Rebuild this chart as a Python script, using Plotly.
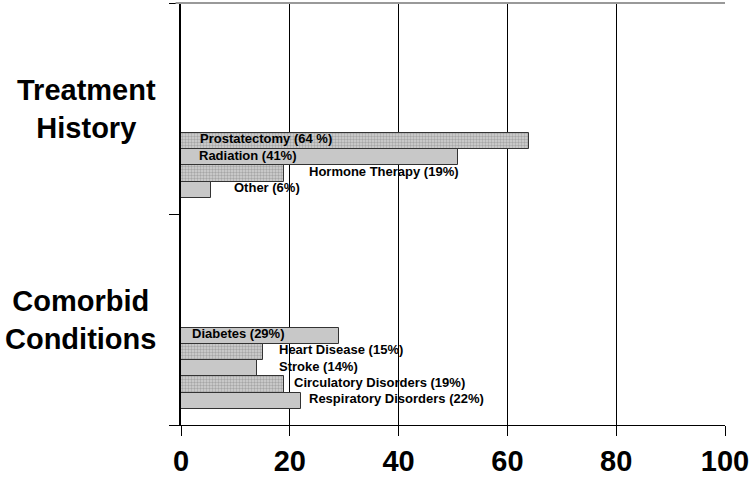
import plotly.graph_objects as go

# data
groups = ["Treatment<br>History", "Comorbid<br>Conditions"]
treatment_labels = ["Prostatectomy (64 %)", "Radiation (41%)", "Hormone Therapy (19%)", "Other (6%)"]
treatment_values = [64, 51, 19, 5.5]
comorbid_labels = ["Diabetes (29%)", "Heart Disease (15%)", "Stroke (14%)",
                   "Circulatory Disorders (19%)", "Respiratory Disorders (22%)"]
comorbid_values = [29, 15, 14, 19, 22]
x_ticks = [0, 20, 40, 60, 80, 100]

# layout of the bars inside each group (slots of equal height)
SLOTS = 13
# where the text of each label starts (x, in axis units)
treatment_text_x = [3.1, 3.0, 23.2, 9.4]
comorbid_text_x = [1.7, 17.6, 17.6, 20.4, 23.2]

FONT = "Arial, Liberation Sans, sans-serif"

fig = go.Figure()
annotations = []

series = [(treatment_labels, treatment_values, treatment_text_x),
          (comorbid_labels, comorbid_values, comorbid_text_x)]

for g, (labels, values, text_x) in enumerate(series):
    start = g * SLOTS + (SLOTS - 1 - len(labels))
    ys = [start + i + 0.5 for i in range(len(labels))]
    # alternate hatched / plain bars
    for i, (lab, val, y) in enumerate(zip(labels, values, ys)):
        hatched = (i % 2 == 0) if g == 0 else (i % 2 == 1)
        marker = dict(color="#c8c8c8", line=dict(color="#333333", width=1))
        if hatched:
            marker = dict(color="#d4d4d4", line=dict(color="#333333", width=1),
                          pattern=dict(shape=".", size=3, solidity=0.5,
                                       fgcolor="#777777", bgcolor="#d4d4d4"))
        fig.add_trace(go.Bar(x=[val], y=[y], orientation="h", width=1,
                             marker=marker, showlegend=False, hoverinfo="skip"))
        annotations.append(dict(x=text_x[i], y=y, xref="x", yref="y", text=f"<b>{lab}</b>",
                                showarrow=False, xanchor="left", yanchor="middle", yshift=2,
                                font=dict(family=FONT, size=13, color="black")))

for g, name in enumerate(groups):
    annotations.append(dict(x=-0.043, y=g * SLOTS + SLOTS / 2, xref="paper", yref="y",
                            text=f"<b>{name}</b>", showarrow=False, xanchor="right",
                            yanchor="middle", align="center",
                            font=dict(family=FONT, size=29, color="black")))

fig.update_layout(
    width=750, height=484,
    margin=dict(l=181, r=25, t=3, b=59),
    paper_bgcolor="white", plot_bgcolor="white",
    barmode="overlay", bargap=0,
    annotations=annotations,
    shapes=[dict(type="line", xref="paper", yref="paper", x0=-0.01, x1=1, y0=1, y1=1,
                 line=dict(color="#999999", width=2))],
    xaxis=dict(range=[0, 100], tickvals=x_ticks, showgrid=True, gridcolor="black", gridwidth=1,
               showline=True, linecolor="black", linewidth=1, ticks="outside", ticklen=10,
               tickcolor="black", zeroline=False, automargin=False,
               tickfont=dict(family=FONT, size=29, color="black", weight="bold")),
    yaxis=dict(range=[2 * SLOTS, 0], tickvals=[0, SLOTS, 2 * SLOTS], showticklabels=False,
               ticks="outside", ticklen=10, tickcolor="black", showgrid=False, automargin=False,
               showline=True, linecolor="black", linewidth=1.5, zeroline=False),
)

fig.write_html("out.html", config={"displayModeBar": False},
               post_script="document.body.style.margin='0';")
